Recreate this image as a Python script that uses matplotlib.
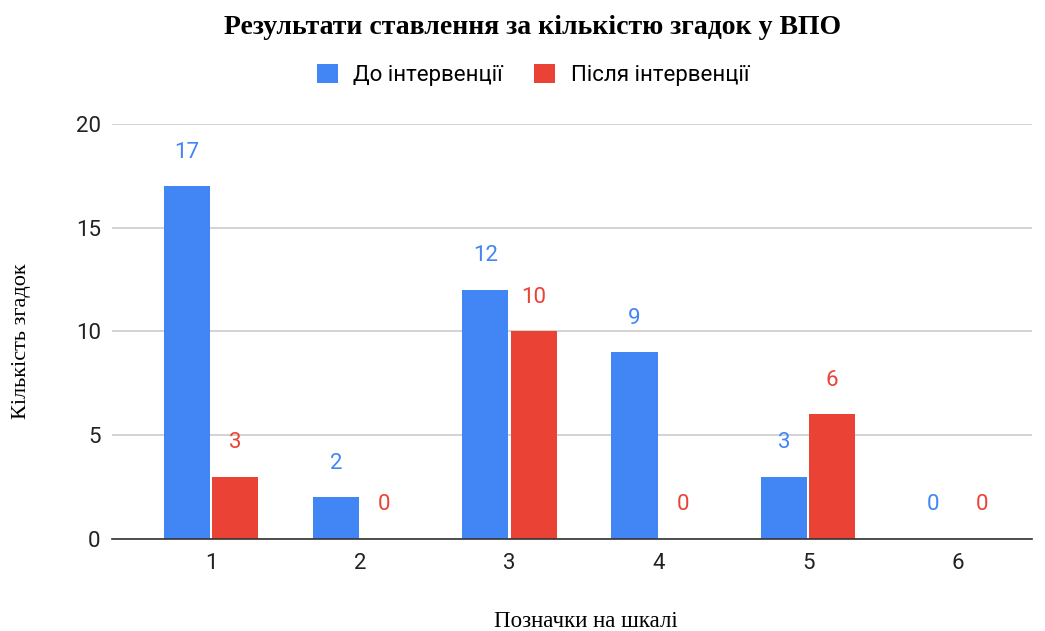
import numpy as np
import matplotlib.pyplot as plt

categories = ["1", "2", "3", "4", "5", "6"]
before = [17, 2, 12, 9, 3, 0]
after = [3, 0, 10, 0, 6, 0]
series_names = ["До інтервенції", "Після інтервенції"]

blue = "#4285F4"
red = "#EA4335"
sans = "Roboto"
serif = "Liberation Serif"

fig = plt.figure(figsize=(10.45, 6.31), dpi=100)
ax = fig.add_axes([0.107, 0.1458, 0.8806, 0.6577])

x = np.arange(1, len(categories) + 1)
w = 0.31
off = 0.162
b1 = ax.bar(x - off, before, w, color=blue, label=series_names[0], zorder=3)
b2 = ax.bar(x + off, after, w, color=red, label=series_names[1], zorder=3)

# value labels above bars
for bars, vals, c in [(b1, before, blue), (b2, after, red)]:
    for rect, v in zip(bars, vals):
        ax.annotate(str(v), (rect.get_x() + rect.get_width() / 2, v),
                    xytext=(0, 24.5), textcoords="offset points",
                    ha="center", va="center", color=c,
                    fontsize=16, family=sans)

ax.set_ylim(0, 20)
ax.set_yticks([0, 5, 10, 15, 20])
ax.set_xlim(0.336, 6.5)
ax.set_xticks(x)
ax.set_xticklabels(categories)
ax.tick_params(length=0, labelsize=16, colors="#222222")
ax.tick_params(axis="y", pad=8)
ax.tick_params(axis="x", pad=10)
for lab in ax.get_xticklabels() + ax.get_yticklabels():
    lab.set_family(sans)

ax.grid(axis="y", color="#cccccc", linewidth=1.2, zorder=0)
for s in ["top", "right", "left"]:
    ax.spines[s].set_visible(False)
ax.spines["bottom"].set_color("#333333")
ax.spines["bottom"].set_linewidth(1.2)
ax.spines["bottom"].set_zorder(4)

fig.text(0.51, 0.957, "Результати ставлення за кількістю згадок у ВПО",
         ha="center", va="center", fontsize=20, fontweight="bold", family=serif)
fig.text(0.561, 0.015, "Позначки на шкалі", ha="center", va="center",
         fontsize=16.5, family=serif)
fig.text(0.021, 0.46, "Кількість згадок", ha="center", va="center",
         rotation=90, fontsize=16, family=serif)

fig.legend(loc="center", bbox_to_anchor=(0.51, 0.881), ncol=2, frameon=False,
           prop={"family": sans, "size": 16}, handlelength=0.95, handleheight=0.95,
           columnspacing=1.4, handletextpad=0.7)

fig.savefig("out.png", dpi=100)
